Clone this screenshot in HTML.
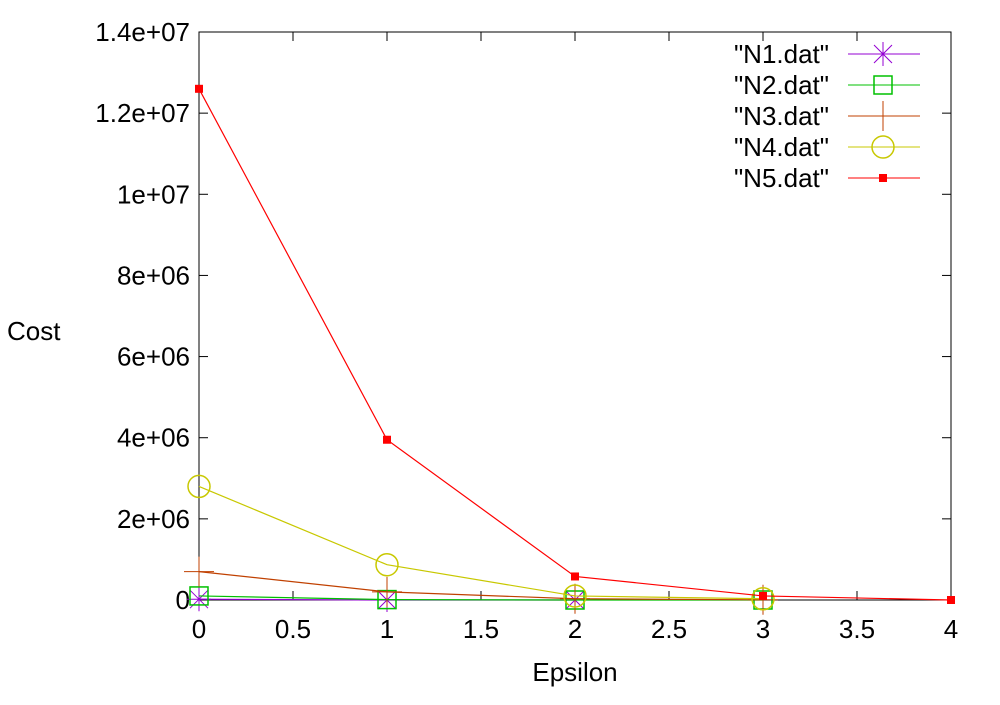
<!DOCTYPE html>
<html><head><meta charset="utf-8"><style>
body{margin:0;background:#fff}
svg text{font-family:"Liberation Sans",sans-serif;font-size:26px;fill:#000}
</style></head><body>
<svg id="c" width="1000" height="700" xmlns="http://www.w3.org/2000/svg"></svg>
<script>
const xVals=[0,1,2,3,4];
const n1=[20000,0,0];
const n2=[100000,10000,0,0];
const n3=[700000,200000,30000,5000];
const n4=[2800000,870000,100000,30000];
const n5=[12600000,3950000,580000,100000,0];
const xTicks=[0,0.5,1,1.5,2,2.5,3,3.5,4];
const xTickLabels=["0","0.5","1","1.5","2","2.5","3","3.5","4"];
const yTicks=[0,2e6,4e6,6e6,8e6,1e7,1.2e7,1.4e7];
const yTickLabels=["0","2e+06","4e+06","6e+06","8e+06","1e+07","1.2e+07","1.4e+07"];
const L=199,R=951,T=32,B=600;
const sx=v=>L+(v-0)/4*(R-L);
const sy=v=>B-v/1.4e7*(B-T);
const svg=document.getElementById('c');
const NS='http://www.w3.org/2000/svg';
function mk(tag,attrs,parent){const e=document.createElementNS(NS,tag);for(const k in attrs)e.setAttribute(k,attrs[k]);(parent||svg).appendChild(e);return e;}
xTicks.forEach((v,i)=>{
  const g=mk('g',{});
  
  
  mk('line',{x1:sx(v),x2:sx(v),y1:B,y2:B-9,stroke:'#000'},g);
  mk('line',{x1:sx(v),x2:sx(v),y1:T,y2:T+9,stroke:'#000'},g);
  const t=mk('text',{x:sx(v),y:B+38,'text-anchor':'middle'},g);t.textContent=xTickLabels[i];
});
yTicks.forEach((v,i)=>{
  const g=mk('g',{});
  
  
  mk('line',{x1:L,x2:L+9,y1:sy(v),y2:sy(v),stroke:'#000'},g);
  mk('line',{x1:R,x2:R-9,y1:sy(v),y2:sy(v),stroke:'#000'},g);
  const t=mk('text',{x:L-9,y:sy(v)+9,'text-anchor':'end'},g);t.textContent=yTickLabels[i];
});
const frame=mk('rect',{x:L,y:T,width:R-L,height:B-T,fill:'none',stroke:'#000'});


const yt=mk('text',{x:7,y:340});yt.textContent='Cost';


const xt=mk('text',{x:575,y:681,'text-anchor':'middle'});xt.textContent='Epsilon';


function marker(type,x,y,col,g){
  if(type==='star'){mk('path',{d:`M${x-12} ${y}H${x+12}M${x} ${y-12}V${y+12}M${x-9} ${y-9}L${x+9} ${y+9}M${x-9} ${y+9}L${x+9} ${y-9}`,stroke:col,fill:'none'},g);}
  else if(type==='box'){mk('rect',{x:x-9,y:y-9,width:18,height:18,stroke:col,fill:'none','stroke-width':1.5},g);}
  else if(type==='plus'){mk('path',{d:`M${x-15} ${y}H${x+15}M${x} ${y-15}V${y+15}`,stroke:col,fill:'none'},g);}
  else if(type==='circle'){mk('circle',{cx:x,cy:y,r:11,stroke:col,fill:'none','stroke-width':1.5},g);}
  else {mk('rect',{x:x-4,y:y-4,width:8,height:8,fill:col},g);}
}
const series=[["N1",n1,'#9400d3','star'],["N2",n2,'#00c000','box'],["N3",n3,'#c04000','plus'],["N4",n4,'#c8c800','circle'],["N5",n5,'#ff0000','sq']];
series.forEach((s,k)=>{
  const g=mk('g',{});
  
  
  mk('polyline',{points:s[1].map((v,i)=>sx(xVals[i])+','+sy(v)).join(' '),fill:'none',stroke:s[2],'stroke-width':1.2},g);
  s[1].forEach((v,i)=>marker(s[3],sx(xVals[i]),sy(v),s[2],g));
  const ly=54+k*31;
  const lg=mk('g',{});
  
  
  const t=mk('text',{x:829,y:ly+9,'text-anchor':'end'},lg);t.textContent='"'+s[0]+'.dat"';
  mk('line',{x1:848,x2:920,y1:ly,y2:ly,stroke:s[2]},lg);
  marker(s[3],883,ly,s[2],lg);
});
</script>
</body></html>
